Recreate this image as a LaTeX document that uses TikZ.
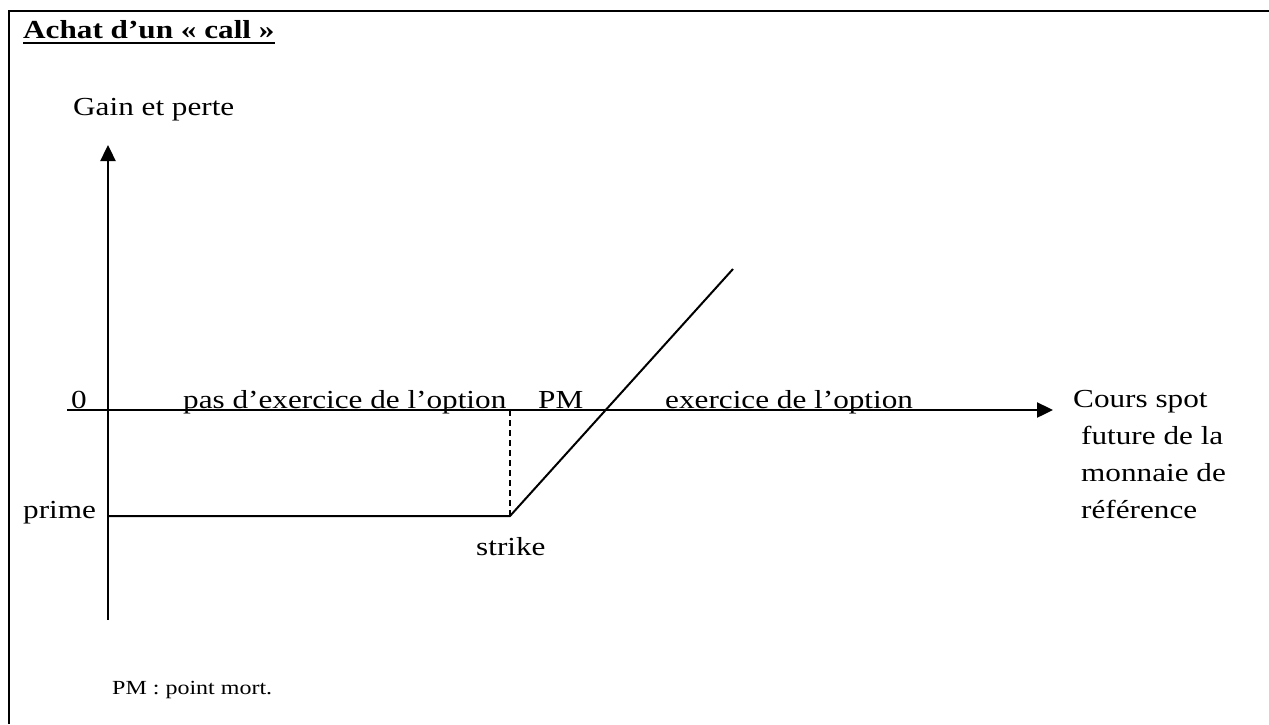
\documentclass[tikz,border=0pt]{standalone}
\usepackage{fontspec}
\setmainfont{Liberation Serif}[FakeStretch=1.2]
\usetikzlibrary{arrows.meta}

\begin{document}
\begin{tikzpicture}[x=1pt,y=-1pt,
  txt/.style={inner sep=0pt,anchor=base west,font=\fontsize{26}{30}\selectfont},
  small/.style={inner sep=0pt,anchor=base west,font=\fontsize{20}{24}\selectfont},
  axis/.style={line width=2.4pt,-{Triangle[length=16pt,width=15pt]}},
  curve/.style={line width=2pt},
  guide/.style={line width=1.5pt,dash pattern=on 6pt off 4pt},
  frame/.style={line width=2pt}]
  \useasboundingbox (0,0) rectangle (1269,724);

  % frame (top and left edges)
  \coordinate (fbl) at (9,724);
  \coordinate (ftl) at (9,11);
  \coordinate (ftr) at (1269,11);
  \draw[frame] (fbl) -- (ftl) -- (ftr);

  % title, bold and underlined
  \node[txt,font=\fontsize{26}{30}\selectfont\bfseries] (title) at (23,38) {Achat d’un « call »};
  \draw[line width=2pt] ([yshift=-5pt]title.base west) -- ([yshift=-5pt]title.base east);

  % axes
  \coordinate (ybot) at (108,620);
  \coordinate (ytop) at (108,145);
  \coordinate (xleft) at (67,410);
  \coordinate (xright) at (1053,410);
  \draw[axis] (ybot) -- (ytop);
  \draw[axis] (xleft) -- (xright);

  % payoff of the long call
  \coordinate (premL) at (108,516);
  \coordinate (strikeP) at (510,516);
  \coordinate (strikeA) at (510,410);
  \coordinate (topP) at (733,269);
  \draw[curve] (premL) -- (strikeP) -- (topP);
  \draw[guide] (strikeA) -- (strikeP);

  % labels
  \node[txt] (gain) at (73,115) {Gain et perte};
  \node[txt] (zero) at (71,408) {0};
  \node[txt] (pas) at (183,408) {pas d’exercice de l’option};
  \node[txt] (pm) at (538,408) {PM};
  \node[txt] (exo) at (665,408) {exercice de l’option};
  \node[txt] (prime) at (23,518) {prime};
  \node[txt] (strike) at (476,555) {strike};
  \node[txt] (c1) at (1073,407) {Cours spot};
  \node[txt] (c2) at (1081,444) {future de la};
  \node[txt] (c3) at (1081,481) {monnaie de};
  \node[txt] (c4) at (1081,518) {référence};
  \node[small] (legend) at (112,694) {PM : point mort.};
\end{tikzpicture}
\end{document}
